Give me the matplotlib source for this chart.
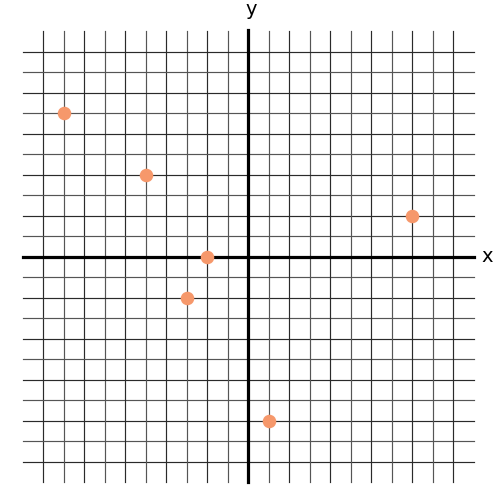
import matplotlib
matplotlib.use("Agg")
import matplotlib.pyplot as plt

# Data
point_x = [-9, -5, -2, -3, 1, 8]
point_y = [7, 4, 0, -2, -8, 2]
grid_values = list(range(-10, 11))
grid_extent = 11
axis_labels = ["x", "y"]

fig = plt.figure(figsize=(5, 5), dpi=100)
ax = fig.add_axes([0, 0, 1, 1])
ax.set_xlim(-12.12, 12.27)
ax.set_ylim(-11.87, 12.52)
ax.axis("off")

for i, v in enumerate(grid_values):
    if v == 0:
        continue
    col = "#2a2a2a" if i % 2 == 0 else "#555555"
    ax.plot([v, v], [-grid_extent, grid_extent], color=col, lw=0.85, zorder=1)
    ax.plot([-grid_extent, grid_extent], [v, v], color=col, lw=0.85, zorder=1)

ax.plot([-grid_extent, grid_extent], [0, 0], color="black", lw=2.3, zorder=2)
ax.plot([0, 0], [-grid_extent, grid_extent + 0.08], color="black", lw=2.3, zorder=2)

ax.scatter(point_x, point_y, s=95, color="#F6986B", zorder=3, linewidths=0)

ax.text(grid_extent + 0.35, 0, axis_labels[0], fontsize=14, va="center", ha="left")
ax.text(0.15, grid_extent + 0.6, axis_labels[1], fontsize=14, va="bottom", ha="center")

fig.savefig("out.png", dpi=100)
